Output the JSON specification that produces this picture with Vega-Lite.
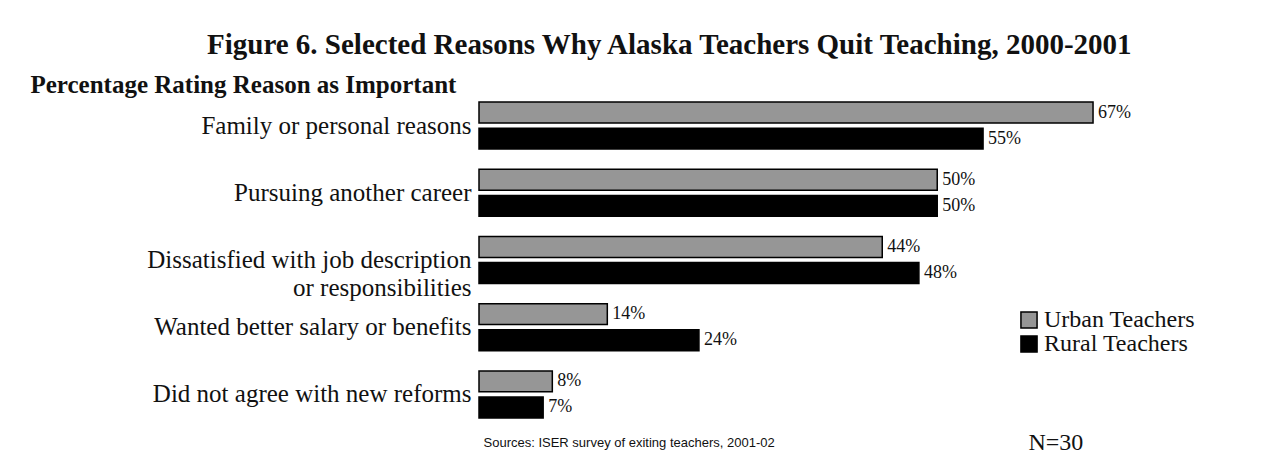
{
  "$schema": "https://vega.github.io/schema/vega-lite/v6.json",
  "width": 779,
  "height": 336,
  "autosize": {"type": "none"},
  "padding": {"left": 479, "top": 92, "right": 6, "bottom": 31},
  "background": "#ffffff",
  "title": {
    "text": "Figure 6. Selected Reasons Why Alaska Teachers Quit Teaching, 2000-2001",
    "anchor": "start",
    "frame": "group",
    "dx": -272,
    "offset": 12,
    "font": "Liberation Serif",
    "fontSize": 29,
    "fontWeight": "bold",
    "color": "#111111"
  },
  "data": {
    "values": [
      {"reason": "Family or personal reasons", "group": "Urban Teachers", "value": 67, "label": "67%"},
      {"reason": "Family or personal reasons", "group": "Rural Teachers", "value": 55, "label": "55%"},
      {"reason": "Pursuing another career", "group": "Urban Teachers", "value": 50, "label": "50%"},
      {"reason": "Pursuing another career", "group": "Rural Teachers", "value": 50, "label": "50%"},
      {"reason": "Dissatisfied with job description|or responsibilities", "group": "Urban Teachers", "value": 44, "label": "44%"},
      {"reason": "Dissatisfied with job description|or responsibilities", "group": "Rural Teachers", "value": 48, "label": "48%"},
      {"reason": "Wanted better salary or benefits", "group": "Urban Teachers", "value": 14, "label": "14%"},
      {"reason": "Wanted better salary or benefits", "group": "Rural Teachers", "value": 24, "label": "24%"},
      {"reason": "Did not agree with new reforms", "group": "Urban Teachers", "value": 8, "label": "8%"},
      {"reason": "Did not agree with new reforms", "group": "Rural Teachers", "value": 7, "label": "7%"}
    ]
  },
  "encoding": {
    "y": {
      "field": "reason",
      "type": "nominal",
      "sort": null,
      "scale": {"paddingInner": 0.3, "paddingOuter": 0.15}
    },
    "yOffset": {
      "field": "group",
      "type": "nominal",
      "sort": ["Urban Teachers", "Rural Teachers"],
      "scale": {"paddingInner": 0.2}
    },
    "x": {
      "field": "value",
      "type": "quantitative",
      "scale": {"domain": [0, 85], "nice": false},
      "axis": {
        "title": "Sources: ISER survey of exiting teachers, 2001-02",
        "labels": false,
        "ticks": false,
        "domain": false,
        "grid": false,
        "titleX": 4,
        "titleY": 14,
        "titleAlign": "left",
        "titleBaseline": "middle",
        "titleFont": "Liberation Sans",
        "titleFontSize": 13,
        "titleFontWeight": "normal",
        "titleColor": "#111111"
      }
    }
  },
  "layer": [
    {
      "mark": {"type": "bar", "stroke": "#000000", "strokeWidth": 1.5},
      "encoding": {
        "color": {
          "field": "group",
          "type": "nominal",
          "sort": ["Urban Teachers", "Rural Teachers"],
          "scale": {"domain": ["Urban Teachers", "Rural Teachers"], "range": ["#969696", "#000000"]},
          "legend": {
            "title": null,
            "orient": "none",
            "legendX": 538,
            "legendY": 216,
            "symbolType": "square",
            "symbolSize": 260,
            "symbolStrokeColor": "#000000",
            "symbolStrokeWidth": 1.5,
            "labelFont": "Liberation Serif",
            "labelFontSize": 24,
            "labelColor": "#111111",
            "rowPadding": 0,
            "labelOffset": 3
          }
        },
        "y": {
          "field": "reason",
          "type": "nominal",
          "sort": null,
          "axis": {
            "title": "Percentage Rating Reason as Important",
            "titleAngle": 0,
            "titleX": -449,
            "titleY": -8,
            "titleAlign": "left",
            "titleBaseline": "middle",
            "titleFont": "Liberation Serif",
            "titleFontSize": 25,
            "titleFontWeight": "bold",
            "titleColor": "#111111",
            "labelExpr": "split(datum.label, '|')",
            "labelFont": "Liberation Serif",
            "labelFontSize": 25,
            "labelLineHeight": 28,
            "labelColor": "#111111",
            "labelLimit": 0,
            "labelPadding": 8,
            "ticks": false,
            "domain": false,
            "grid": false
          }
        }
      }
    },
    {
      "mark": {"type": "text", "align": "left", "baseline": "middle", "dx": 5, "font": "Liberation Serif", "fontSize": 18, "color": "#111111"},
      "encoding": {
        "text": {"field": "label"},
        "y": {
          "field": "reason",
          "type": "nominal",
          "sort": null,
          "axis": {
            "orient": "right",
            "title": "N=30",
            "titleAngle": 0,
            "titleX": -230,
            "titleY": 350,
            "titleAlign": "left",
            "titleBaseline": "middle",
            "titleFont": "Liberation Serif",
            "titleFontSize": 24,
            "titleFontWeight": "normal",
            "titleColor": "#111111",
            "labels": false,
            "ticks": false,
            "domain": false,
            "grid": false
          }
        }
      }
    }
  ],
  "resolve": {"axis": {"y": "independent"}},
  "config": {"view": {"stroke": null}}
}
